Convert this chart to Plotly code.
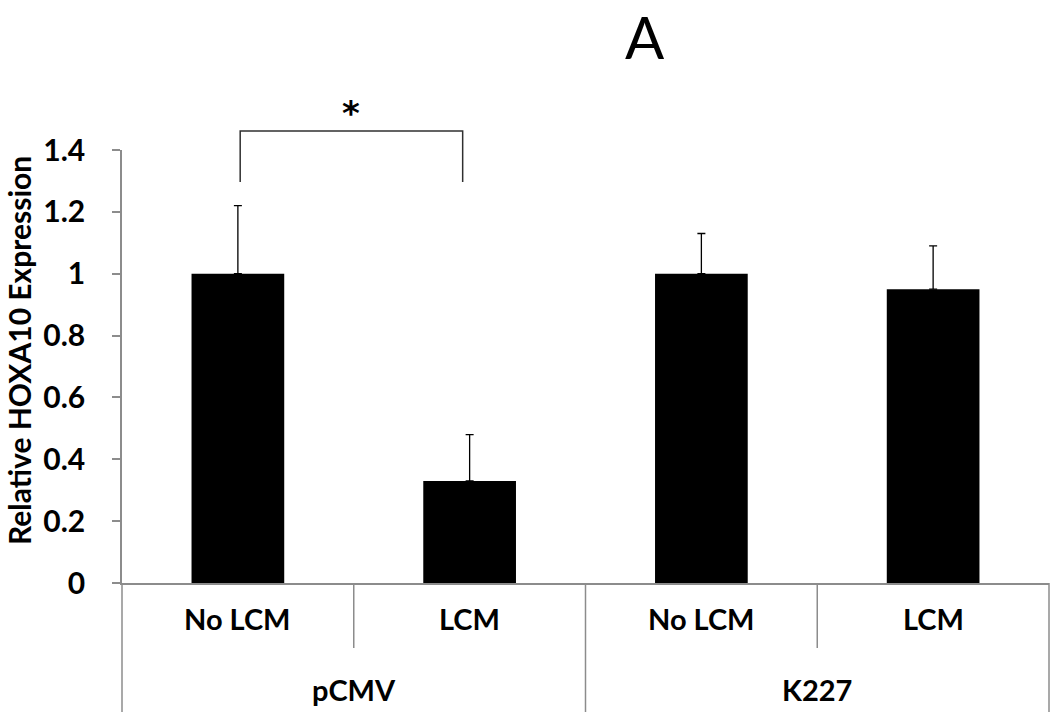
import plotly.graph_objects as go

# data
groups = ["pCMV", "pCMV", "K227", "K227"]
conditions = ["No LCM", "LCM", "No LCM", "LCM"]
expression = [1.0, 0.33, 1.0, 0.95]
errors = [0.22, 0.15, 0.13, 0.14]
y_ticks = [0, 0.2, 0.4, 0.6, 0.8, 1, 1.2, 1.4]

keys = [g + " " + c for g, c in zip(groups, conditions)]

FONT = "Lato, Carlito, Calibri, Liberation Sans, sans-serif"
GRAY = "#8c8c8c"

fig = go.Figure()
fig.add_trace(go.Bar(
    x=keys, y=expression, width=0.4,
    marker=dict(color="black", line=dict(width=0)),
    error_y=dict(type="data", array=errors, arrayminus=[0] * len(errors),
                 symmetric=False, color="black", thickness=1.3, width=4),
    showlegend=False,
))

fig.update_layout(
    width=1050, height=712,
    margin=dict(l=122, r=1, t=150, b=129),
    paper_bgcolor="white", plot_bgcolor="white",
    bargap=0.6,
    xaxis=dict(type="category", showticklabels=False, ticks="",
               showline=True, linecolor=GRAY, linewidth=1.5,
               showgrid=False, zeroline=False, range=[-0.5, 3.5]),
    yaxis=dict(range=[0, 1.4], tickvals=y_ticks,
               ticktext=[f"{v:g}" for v in y_ticks],
               ticks="outside", ticklen=8, tickcolor=GRAY, tickwidth=1.5,
               ticklabelstandoff=21,
               showline=True, linecolor=GRAY, linewidth=1.5,
               showgrid=False, zeroline=False,
               tickfont=dict(family=FONT, size=30, color="black", weight="bold")),
)

# y axis title
fig.add_annotation(text="<b>Relative HOXA10 Expression</b>", textangle=-90,
                   xref="paper", yref="paper", x=-0.111, y=0.536,
                   xanchor="center", yanchor="middle", borderpad=0,
                   showarrow=False, font=dict(family=FONT, size=30, color="black"))

# panel label
fig.add_annotation(text="A", xref="paper", yref="paper", x=0.564, y=1.262,
                   xanchor="center", yanchor="middle",
                   showarrow=False, font=dict(family=FONT, size=58, color="black"))

# category labels under the axis
for k, c in zip(keys, conditions):
    fig.add_annotation(text=f"<b>{c}</b>", x=k, xref="x", yref="paper", y=-0.081,
                       xanchor="center", yanchor="middle",
                       showarrow=False, font=dict(family=FONT, size=29, color="black"))
for i, g in enumerate(["pCMV", "K227"]):
    fig.add_annotation(text=f"<b>{g}</b>", x=2 * i + 0.5, xref="x", yref="paper",
                       y=-0.247, xanchor="center", yanchor="middle", showarrow=False,
                       font=dict(family=FONT, size=29, color="black"))

# dividers in the label area
for xd in [0.5, 2.5]:
    fig.add_shape(type="line", xref="x", yref="paper", x0=xd, x1=xd, y0=0, y1=-0.15,
                  line=dict(color=GRAY, width=1.5))
for xd in [0, 0.5, 1]:
    fig.add_shape(type="line", xref="x domain", yref="paper", x0=xd, x1=xd,
                  y0=0, y1=-0.3, line=dict(color=GRAY, width=1.5))

# significance bracket
fig.add_shape(type="path", xref="x", yref="paper",
              path="M 0.01,0.926 L 0.01,1.044 L 0.97,1.044 L 0.97,0.926",
              line=dict(color="#303030", width=1.5))
fig.add_annotation(text="<b>*</b>", x=0.49, xref="x", yref="paper", y=1.085,
                   xanchor="center", yanchor="middle", showarrow=False,
                   font=dict(family="DejaVu Sans", size=34, color="black"))

fig.write_html("out.html", config={"displayModeBar": False},
               post_script="document.body.style.margin='0';")
